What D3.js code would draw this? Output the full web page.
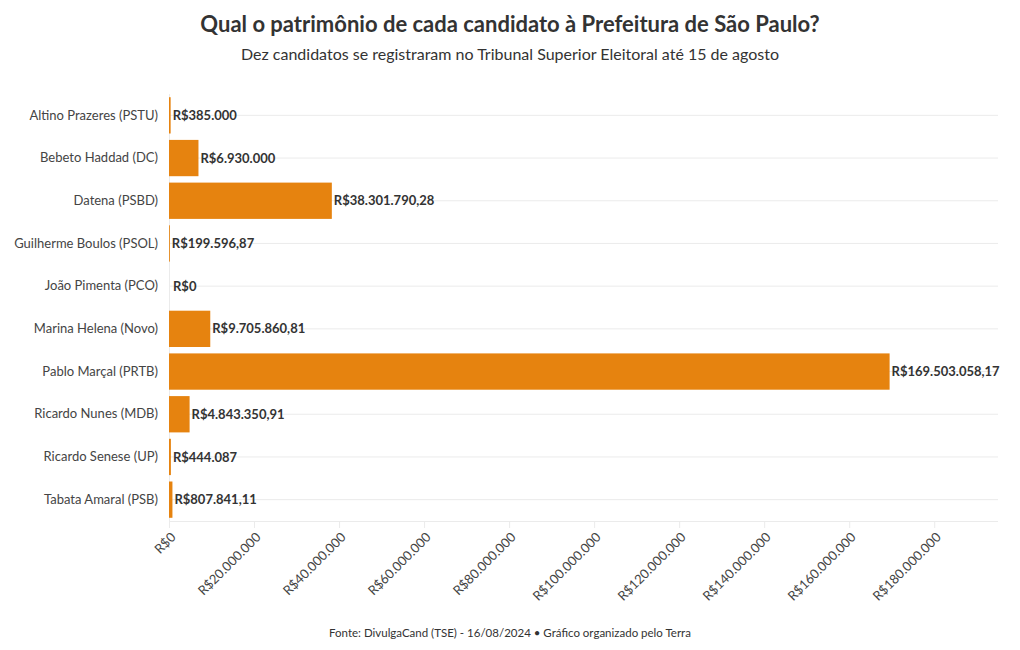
<!DOCTYPE html>
<html><head><meta charset="utf-8">
<script src="https://cdn.jsdelivr.net/npm/d3@7"></script>
<style>body{margin:0;background:#fff;} text{font-family:Lato, "Noto Sans", sans-serif;}</style>
</head><body>
<svg id="c" width="1020" height="650"></svg>
<script>
const candidates = ["Altino Prazeres (PSTU)","Bebeto Haddad (DC)","Datena (PSBD)","Guilherme Boulos (PSOL)","João Pimenta (PCO)","Marina Helena (Novo)","Pablo Marçal (PRTB)","Ricardo Nunes (MDB)","Ricardo Senese (UP)","Tabata Amaral (PSB)"];
const values = [385000, 6930000, 38301790.28, 199596.87, 0, 9705860.81, 169503058.17, 4843350.91, 444087, 807841.11];
const valueLabels = ["R$385.000","R$6.930.000","R$38.301.790,28","R$199.596,87","R$0","R$9.705.860,81","R$169.503.058,17","R$4.843.350,91","R$444.087","R$807.841,11"];
const tickValues = [0,20e6,40e6,60e6,80e6,100e6,120e6,140e6,160e6,180e6];
const tickLabels = ["R$0","R$20.000.000","R$40.000.000","R$60.000.000","R$80.000.000","R$100.000.000","R$120.000.000","R$140.000.000","R$160.000.000","R$180.000.000"];
const title = "Qual o patrimônio de cada candidato à Prefeitura de São Paulo?";
const subtitle = "Dez candidatos se registraram no Tribunal Superior Eleitoral até 15 de agosto";
const source = "Fonte: DivulgaCand (TSE) - 16/08/2024 • Gráfico organizado pelo Terra";

const svg = d3.select("#c");
const x = d3.scaleLinear().domain([0, 195e6]).range([169, 998]);
const y = d3.scaleBand().domain(candidates).range([94, 521]).paddingInner(0.15).paddingOuter(0.075);

// grid lines horizontal
svg.append("g").selectAll("line").data(candidates).join("line")
  .attr("x1", x(0)).attr("x2", x.range()[1])
  .attr("y1", d => y(d) + y.bandwidth()/2).attr("y2", d => y(d) + y.bandwidth()/2)
  .attr("stroke", "#ebebeb").attr("stroke-width", 1);

// x axis
const xAxis = d3.axisBottom(x).tickValues(tickValues).tickFormat((d,i)=>tickLabels[i]).tickSize(7).tickPadding(4);
const gx = svg.append("g").attr("transform", `translate(0,${521})`).call(xAxis);
gx.select(".domain").attr("stroke", "#ebebeb").attr("d", `M${x(0)},0.5H${x.range()[1]}`);
gx.selectAll(".tick line").attr("stroke", "#ebebeb");
gx.selectAll(".tick text").attr("fill", "#444").style("font-size", "13px")
  .attr("text-anchor", "end").attr("x", 0).attr("y", 0).attr("dy", 0)
  .attr("transform", "translate(7,17) rotate(-45)");

// y axis
const yAxis = d3.axisLeft(y).tickSize(0).tickPadding(11);
const gy = svg.append("g").attr("transform", `translate(${x(0)},0)`).call(yAxis);
gy.select(".domain").attr("stroke", "#ebebeb").attr("d", `M0.5,${y.range()[0]}V${y.range()[1]}`);
gy.selectAll(".tick text").attr("fill", "#444").style("font-size", "13px");

// bars
svg.append("g").selectAll("rect").data(candidates).join("rect")
  .attr("x", x(0)).attr("y", d => y(d))
  .attr("width", (d,i) => Math.max(0, x(values[i]) - x(0)))
  .attr("height", y.bandwidth())
  .attr("fill", "#E6830F");

// value labels
svg.append("g").selectAll("text").data(candidates).join("text")
  .attr("x", (d,i) => x(values[i]) + (values[i] === 0 ? 4 : 2))
  .attr("y", d => y(d) + y.bandwidth()/2)
  .attr("dy", "0.35em")
  .attr("fill", "#333").style("font-size", "13px").style("font-weight", "bold")
  .text((d,i) => valueLabels[i]);

// titles
svg.append("text").attr("x", 510).attr("y", 32).attr("text-anchor", "middle")
  .attr("fill", "#333").style("font-size", "22px").style("font-weight", "bold").text(title);
svg.append("text").attr("x", 510).attr("y", 60).attr("text-anchor", "middle")
  .attr("fill", "#333").style("font-size", "16px").text(subtitle);
svg.append("text").attr("x", 510).attr("y", 637).attr("text-anchor", "middle")
  .attr("fill", "#333").style("font-size", "11.5px").text(source);
</script>
</body></html>
